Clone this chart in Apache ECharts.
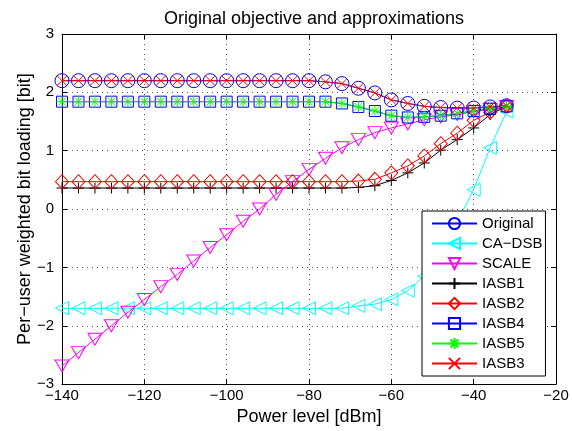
<!DOCTYPE html>
<html>
<head>
<meta charset="utf-8">
<script src="https://cdn.jsdelivr.net/npm/echarts@6/dist/echarts.min.js"></script>
<style>
  html, body { margin: 0; padding: 0; background: #fff; }
  #chart { width: 572px; height: 431px; }
</style>
</head>
<body>
<div id="chart"></div>
<script>
var power = [-140, -136, -132, -128, -124, -120, -116, -112, -108, -104, -100, -96, -92, -88,
             -84, -80, -76, -72, -68, -64, -60, -56, -52, -48, -44, -40, -36, -32];

var original = [2.20, 2.20, 2.20, 2.20, 2.20, 2.20, 2.20, 2.20, 2.20, 2.20, 2.20, 2.20, 2.20, 2.20,
                2.20, 2.20, 2.18, 2.15, 2.07, 1.99, 1.87, 1.81, 1.76, 1.74, 1.73, 1.73, 1.75, 1.77];
var caDsb = [-1.70, -1.70, -1.70, -1.70, -1.70, -1.70, -1.70, -1.70, -1.70, -1.70, -1.70, -1.70, -1.70, -1.70,
             -1.70, -1.70, -1.70, -1.70, -1.66, -1.63, -1.55, -1.40, -1.15, -0.72, -0.22, 0.33, 1.05, 1.67];
var scale = [-2.69, -2.46, -2.23, -2.00, -1.77, -1.55, -1.33, -1.12, -0.89, -0.66, -0.44, -0.21, 0.00, 0.25,
             0.47, 0.68, 0.87, 1.05, 1.19, 1.31, 1.39, 1.46, 1.53, 1.58, 1.62, 1.67, 1.71, 1.76];
var iasb1 = [0.36, 0.36, 0.36, 0.36, 0.36, 0.36, 0.36, 0.36, 0.36, 0.36, 0.36, 0.36, 0.36, 0.36,
             0.36, 0.36, 0.36, 0.36, 0.37, 0.40, 0.49, 0.62, 0.79, 1.01, 1.19, 1.39, 1.62, 1.76];
var iasb2 = [0.47, 0.47, 0.47, 0.47, 0.47, 0.47, 0.47, 0.47, 0.47, 0.47, 0.47, 0.47, 0.47, 0.47,
             0.47, 0.47, 0.47, 0.47, 0.48, 0.51, 0.62, 0.74, 0.91, 1.12, 1.30, 1.52, 1.66, 1.77];
var iasb4 = [1.84, 1.84, 1.84, 1.84, 1.84, 1.84, 1.84, 1.84, 1.84, 1.84, 1.84, 1.84, 1.84, 1.84,
             1.84, 1.84, 1.84, 1.81, 1.75, 1.68, 1.60, 1.57, 1.58, 1.60, 1.64, 1.68, 1.72, 1.76];
var iasb5 = [1.84, 1.84, 1.84, 1.84, 1.84, 1.84, 1.84, 1.84, 1.84, 1.84, 1.84, 1.84, 1.84, 1.84,
             1.84, 1.84, 1.84, 1.81, 1.75, 1.68, 1.60, 1.57, 1.58, 1.60, 1.64, 1.68, 1.72, 1.76];
var iasb3 = [2.20, 2.20, 2.20, 2.20, 2.20, 2.20, 2.20, 2.20, 2.20, 2.20, 2.20, 2.20, 2.20, 2.20,
             2.20, 2.20, 2.18, 2.15, 2.07, 1.99, 1.87, 1.81, 1.76, 1.74, 1.73, 1.73, 1.75, 1.77];

var FONT = "'Liberation Sans', Arial, Helvetica, sans-serif";

function pairs(ys) {
  var res = [];
  for (var i = 0; i < power.length; i++) {
    res.push([power[i], ys[i]]);
  }
  return res;
}

function minus(v) {
  return String(v).replace('-', '\u2212');
}

function makeSeries(name, ys, color, symbol, size) {
  return {
    name: name,
    type: 'line',
    data: pairs(ys),
    symbol: symbol,
    symbolSize: size,
    showAllSymbol: true,
    lineStyle: {color: color, width: 1},
    itemStyle: {color: 'rgba(0,0,0,0)', borderColor: color, borderWidth: 1},
    emphasis: {disabled: true},
    animation: false
  };
}

// marker shapes like the matlab ones
var triLeft = 'path://M0 5 L10 0 L10 10 Z';
var triDown = 'path://M0 0 L10 0 L5 9 Z';
var plus = 'path://M5 0 L5 10 M0 5 L10 5';
var star = 'path://M5 0 L5 10 M0 5 L10 5 M1.5 1.5 L8.5 8.5 M1.5 8.5 L8.5 1.5';
var cross = 'path://M0 0 L10 10 M0 10 L10 0';

var myChart = echarts.init(document.getElementById('chart'));

var option = {
  backgroundColor: '#fff',
  animation: false,
  title: {
    text: 'Original objective and approximations',
    left: 309,
    textAlign: 'center',
    top: 5,
    textStyle: {fontFamily: FONT, fontSize: 18, fontWeight: 'normal', color: '#000'}
  },
  grid: {left: 62, right: 16, top: 34, bottom: 46},
  legend: {
    orient: 'vertical',
    left: 422,
    top: 211,
    padding: [5, 3, 5, 9],
    itemWidth: 45,
    itemHeight: 14,
    itemGap: 5,
    backgroundColor: '#fff',
    borderColor: '#000',
    borderWidth: 1,
    textStyle: {fontFamily: FONT, fontSize: 15, color: '#000'},
    data: ['Original', 'CA\u2212DSB', 'SCALE', 'IASB1', 'IASB2', 'IASB4', 'IASB5', 'IASB3']
  },
  xAxis: [
    {
      type: 'value',
      min: -140, max: -20, interval: 20,
      name: 'Power level [dBm]',
      nameLocation: 'middle',
      nameGap: 21,
      nameTextStyle: {fontFamily: FONT, fontSize: 18, color: '#000'},
      axisLine: {show: true, onZero: false, lineStyle: {color: '#000', width: 1}},
      axisTick: {show: true, inside: true, length: 5, lineStyle: {color: '#000'}},
      axisLabel: {fontFamily: FONT, fontSize: 15, color: '#000', margin: 4, formatter: minus},
      splitLine: {show: true, lineStyle: {color: '#555', type: [1, 4], width: 1}}
    },
    {
      type: 'value',
      position: 'top',
      min: -140, max: -20, interval: 20,
      axisLine: {show: true, onZero: false, lineStyle: {color: '#000', width: 1}},
      axisTick: {show: true, inside: true, length: 5, lineStyle: {color: '#000'}},
      axisLabel: {show: false},
      splitLine: {show: false}
    }
  ],
  yAxis: [
    {
      type: 'value',
      min: -3, max: 3, interval: 1,
      name: 'Per\u2212user weighted bit loading [bit]',
      nameLocation: 'middle',
      nameGap: 28,
      nameMoveOverlap: false,
      nameTextStyle: {fontFamily: FONT, fontSize: 18, color: '#000'},
      axisLine: {show: true, onZero: false, lineStyle: {color: '#000', width: 1}},
      axisTick: {show: true, inside: true, length: 5, lineStyle: {color: '#000'}},
      axisLabel: {fontFamily: FONT, fontSize: 15, color: '#000', margin: 8, formatter: minus},
      splitLine: {show: true, lineStyle: {color: '#555', type: [1, 4], width: 1}}
    },
    {
      type: 'value',
      position: 'right',
      min: -3, max: 3, interval: 1,
      axisLine: {show: true, onZero: false, lineStyle: {color: '#000', width: 1}},
      axisTick: {show: true, inside: true, length: 5, lineStyle: {color: '#000'}},
      axisLabel: {show: false},
      splitLine: {show: false}
    }
  ],
  series: [
    makeSeries('Original', original, '#0000ff', 'circle', 14),
    makeSeries('CA\u2212DSB', caDsb, '#00ffff', triLeft, 13),
    makeSeries('SCALE', scale, '#ff00ff', triDown, [14, 12]),
    makeSeries('IASB1', iasb1, '#000000', plus, 11),
    makeSeries('IASB2', iasb2, '#ff0000', 'diamond', [13, 14]),
    makeSeries('IASB4', iasb4, '#0000ff', 'rect', 11),
    makeSeries('IASB5', iasb5, '#00ff00', star, 11),
    makeSeries('IASB3', iasb3, '#ff0000', cross, 10)
  ]
};

myChart.setOption(option);
</script>
</body>
</html>
